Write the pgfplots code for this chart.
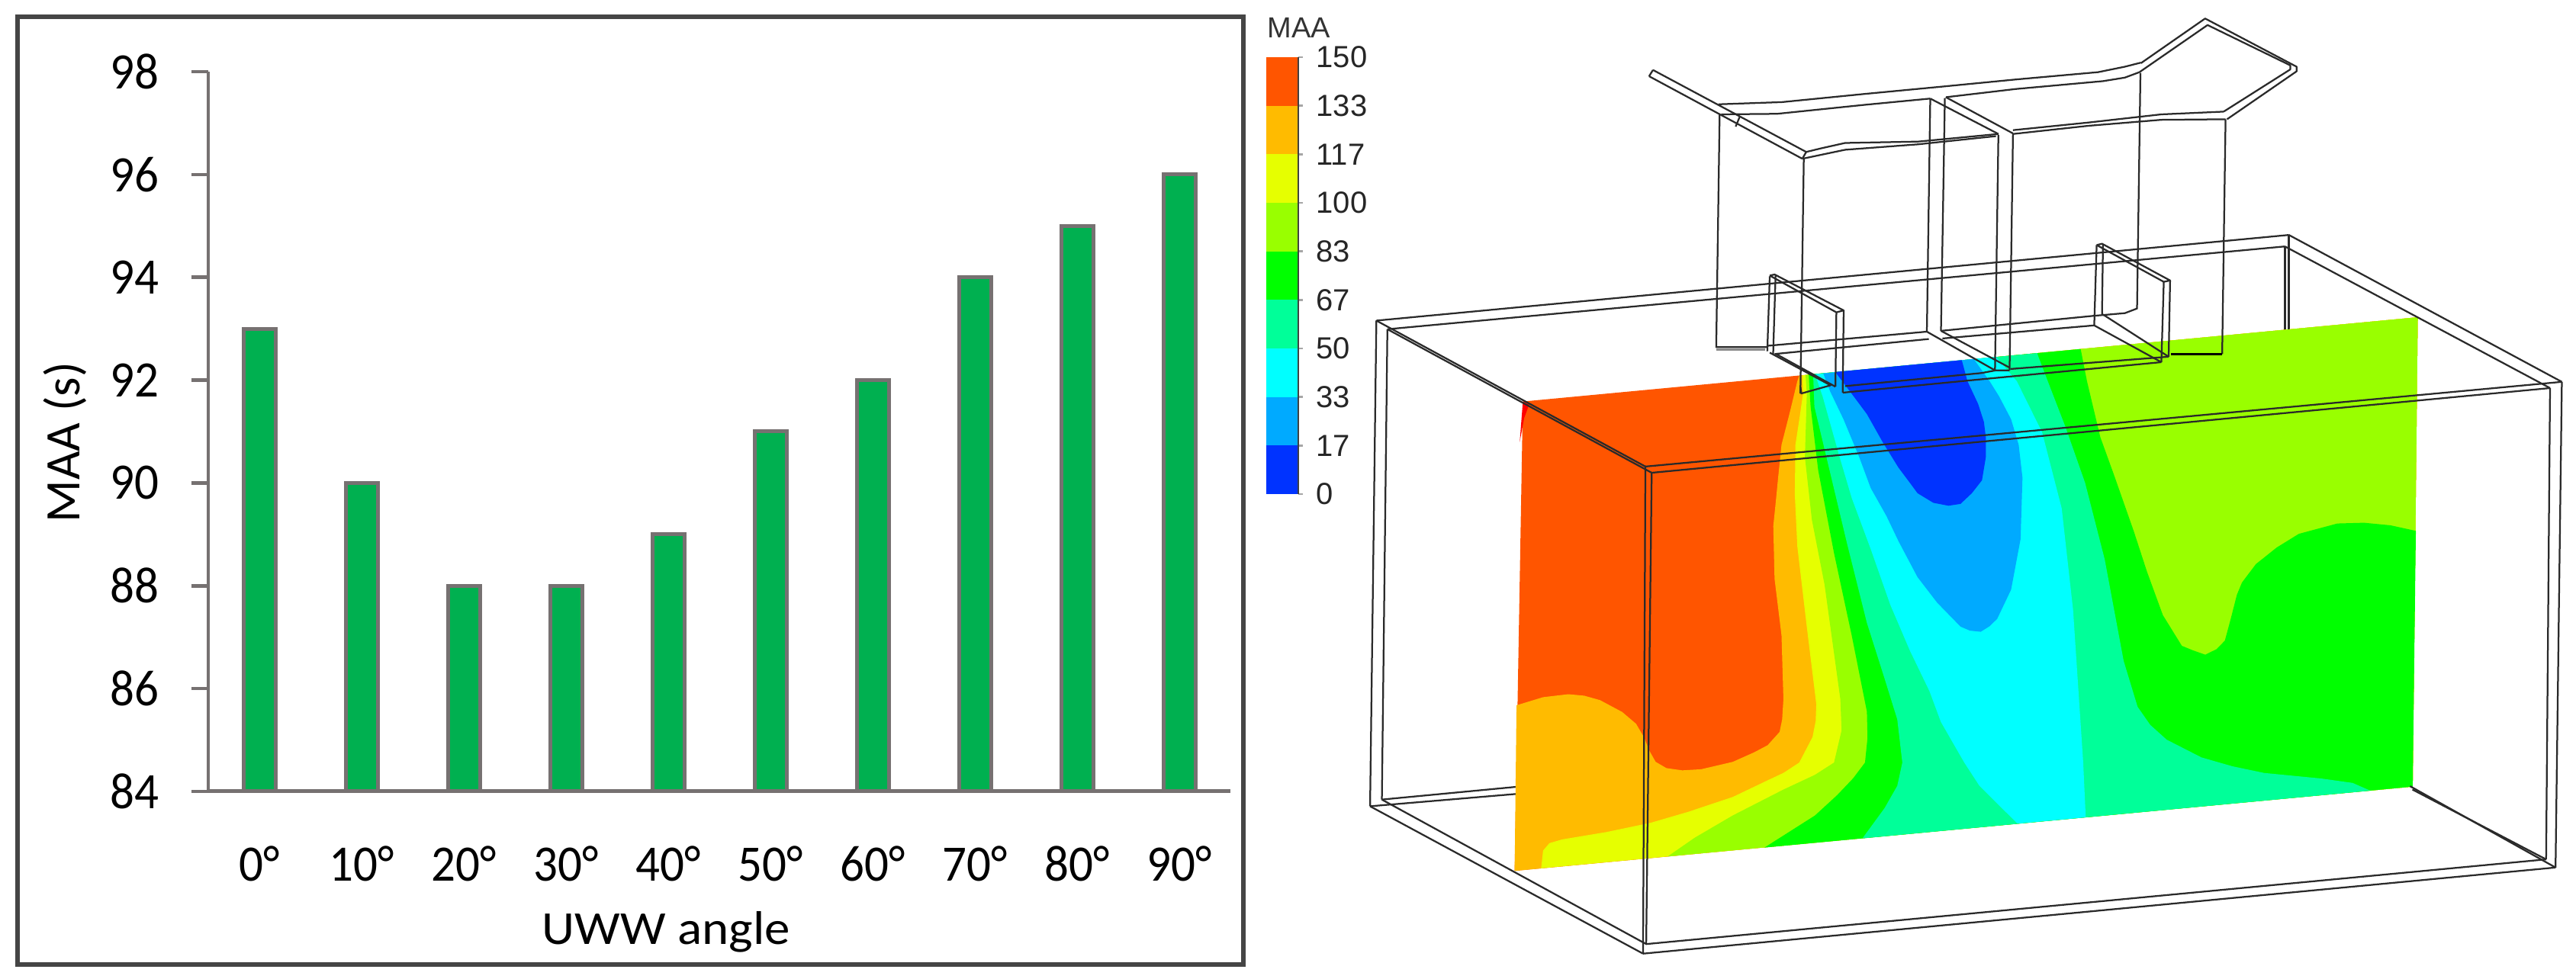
\documentclass[border=0pt]{standalone}
\usepackage{fontspec}
\setmainfont[FakeStretch=0.94]{Carlito}
\newfontfamily\xlabfont[FakeStretch=1.08]{Carlito}
\newfontfamily\ylabfont{Carlito}
\newfontfamily\cbfont{Liberation Sans}
\usepackage{pgfplots}
\pgfplotsset{compat=1.18}
\definecolor{barfill}{HTML}{00B050}
\definecolor{baredge}{HTML}{767171}
\definecolor{framec}{HTML}{454545}
\definecolor{lv0}{HTML}{0033FF}
\definecolor{lv1}{HTML}{00AAFF}
\definecolor{lv2}{HTML}{00FFFF}
\definecolor{lv3}{HTML}{00FF99}
\definecolor{lv4}{HTML}{00FF00}
\definecolor{lv5}{HTML}{99FF00}
\definecolor{lv6}{HTML}{E6FF00}
\definecolor{lv7}{HTML}{FFBB00}
\definecolor{lv8}{HTML}{FF5500}
\definecolor{wirec}{HTML}{2A2A2A}
% 1 px of the reference = 0.2pt
\pgfplotsset{
  panel/.style={scale only axis, hide axis, clip=false, y dir=reverse,
    xmin=0, xmax=1568, ymin=0, ymax=1568, anchor=south west},
  wire/.style={draw=wirec, line width=0.45pt, mark=none, line join=round},
}
\newcommand{\wl}[1]{\addplot[wire] coordinates {#1};}
\newcommand{\band}[2]{\addplot[fill=#1, draw=none] coordinates {#2} --cycle;}
\begin{document}
\begin{tikzpicture}
\useasboundingbox (0,0) rectangle (675.4pt,256.8pt);
\draw[framec, line width=1.1pt] (4.6pt,3.8pt) rectangle (326pt,252.4pt);

% bar chart
\begin{axis}[
  at={(54.6pt,49.2pt)}, anchor=south west, scale only axis,
  width=268pt, height=188.8pt,
  ybar, bar width=8.4pt, bar shift=0pt,
  xmin=-0.5, xmax=9.5, ymin=84, ymax=98,
  xtick=data,
  xticklabels={0°,10°,20°,30°,40°,50°,60°,70°,80°,90°},
  ytick={84,86,88,90,92,94,96,98},
  axis x line=bottom, axis y line=left,
  x axis line style={-, draw=baredge, line width=1pt},
  y axis line style={-, draw=baredge, line width=0.9pt},
  xtick style={draw=none},
  ytick style={draw=baredge, line width=0.9pt},
  tick align=outside, major tick length=4.4pt,
  tick label style={font=\fontsize{13.4}{15}\selectfont, black},
  /pgf/number format/assume math mode=true,
  yticklabel style={xshift=-4.9pt},
  xticklabel style={yshift=-6.4pt},
  xlabel={\xlabfont\fontsize{12.4}{14}\selectfont UWW angle},
  ylabel={\ylabfont\fontsize{13}{15}\selectfont MAA (s)},
  every axis x label/.style={at={(axis description cs:0.448,-0.195)}, anchor=center, black},
  every axis y label/.style={at={(axis description cs:-0.14,0.485)}, anchor=center, rotate=90, black},
  axis on top,
]
\addplot[fill=barfill, draw=baredge, line width=1pt] coordinates {
  (0,93) (1,90) (2,88) (3,88) (4,89) (5,91) (6,92) (7,94) (8,95) (9,96)
};
\end{axis}

% colour bar
\begin{axis}[
  at={(332pt,127.2pt)}, anchor=south west, scale only axis,
  width=8.4pt, height=114.6pt,
  xmin=0, xmax=1, ymin=0, ymax=150,
  axis x line=none, axis y line=right,
  y axis line style={-, draw=black!75, line width=0.5pt},
  ytick={0,16.67,33.33,50,66.67,83.33,100,116.67,133.33,150},
  yticklabels={0,17,33,50,67,83,100,117,133,150},
  ytick style={draw=black!35, line width=0.5pt},
  tick align=outside, major tick length=1.2pt,
  yticklabel style={font=\cbfont\fontsize{8}{9}\selectfont, black!85},
  title={\cbfont\fontsize{7.6}{9}\selectfont MAA},
  every axis title shift=0pt,
  title style={at={(axis description cs:0.02,1.068)}, anchor=west, black!80, inner sep=0pt},
  axis on top,
]
\band{lv0}{(0,0)(1,0)(1,16.67)(0,16.67)}
\band{lv1}{(0,16.67)(1,16.67)(1,33.33)(0,33.33)}
\band{lv2}{(0,33.33)(1,33.33)(1,50)(0,50)}
\band{lv3}{(0,50)(1,50)(1,66.67)(0,66.67)}
\band{lv4}{(0,66.67)(1,66.67)(1,83.33)(0,83.33)}
\band{lv5}{(0,83.33)(1,83.33)(1,100)(0,100)}
\band{lv6}{(0,100)(1,100)(1,116.67)(0,116.67)}
\band{lv7}{(0,116.67)(1,116.67)(1,133.33)(0,133.33)}
\band{lv8}{(0,133.33)(1,133.33)(1,150)(0,150)}
\end{axis}

% box edges behind the plane
\begin{axis}[panel, at={(352pt,0pt)}, width=323.4pt, height=196.8pt]
\wl{(43,192)(1203,13)}
\wl{(57,210)(1198,37)}
\wl{(43,192)(35,1207)}
\wl{(57,210)(50,1193)}
\wl{(50,1193)(230,1165)}
\wl{(35,1207)(230,1180)}
\wl{(1203,13)(1203,215)}
\wl{(1198,37)(1198,215)}
\end{axis}

% contour plane, painted from the highest level down
\begin{axis}[panel, at={(388pt,20.8pt)}, width=260pt, height=152pt]
\band{lv8}{(68,220)(1483,-8)(1475,1262)(55,1490)}
\band{red}{(68,220)(78,228)(70,265)(63,330)}
\band{lv7}{(505,150)(502,165)(490,250)(477,337)(472,420)(468,490)(464,557)(466,700)(477,853)(480,1025)(478,1080)(474,1114)(455,1150)(434,1169)(400,1195)(350,1215)(320,1218)(295,1212)(278,1195)(268,1165)(260,1130)(247,1092)(225,1060)(190,1028)(165,1016)(140,1012)(100,1020)(58,1042)(55,1490)(1475,1262)(1483,-8)}
\band{lv6}{(510,149)(511,199)(505,270)(499,337)(498,470)(502,612)(517,830)(532,1039)(531,1085)(526,1128)(505,1197)(480,1225)(455,1245)(400,1290)(330,1330)(270,1360)(200,1385)(130,1405)(110,1415)(100,1435)(97,1483)(1475,1262)(1483,-8)}
\band{lv5}{(515,148)(517,199)(514,371)(525,540)(545,715)(570,1025)(572,1110)(560,1197)(530,1230)(480,1270)(400,1340)(340,1400)(297,1451)(1475,1262)(1483,-8)}
\band{lv4}{(520,147)(523,234)(535,406)(560,630)(588,853)(612,1059)(613,1130)(609,1197)(590,1240)(565,1285)(530,1340)(450,1427)(1475,1262)(1480,570)(1440,555)(1398,548)(1356,550)(1295,578)(1260,615)(1227,660)(1205,710)(1197,743)(1187,810)(1178,867)(1165,890)(1147,905)(1127,893)(1110,881)(1080,798)(1055,681)(1034,571)(1003,420)(981,316)(960,165)(950,78)}
\band{lv3}{(527,146)(529,234)(551,392)(580,600)(612,819)(640,970)(660,1080)(668,1197)(660,1260)(640,1320)(605,1402)(1408,1273)(1380,1252)(1330,1240)(1240,1225)(1190,1207)(1141,1183)(1086,1135)(1060,1095)(1040,1046)(1018,922)(988,647)(957,440)(926,289)(898,165)(881,89)}
\band{lv2}{(530,146)(542,206)(569,371)(588,481)(618,619)(649,770)(680,894)(711,1004)(729,1087)(766,1197)(790,1260)(850,1362)(958,1345)(954,1197)(938,784)(920,509)(889,303)(849,165)(816,99)}
\band{lv1}{(543,144)(554,193)(575,268)(600,371)(618,454)(643,530)(662,598)(692,695)(723,764)(760,829)(775,840)(792,843)(806,828)(818,808)(840,729)(855,592)(858,426)(852,337)(840,268)(821,206)(806,165)(781,105)}
\band{lv0}{(562,140)(588,199)(612,254)(637,330)(662,399)(680,440)(692,468)(717,494)(741,502)(760,497)(778,468)(794,433)(800,371)(800,316)(797,275)(788,227)(771,165)(762,108)}
\end{axis}

% box edges in front of the plane
\begin{axis}[panel, at={(352pt,0pt)}, width=323.4pt, height=196.8pt]
\wl{(43,192)(385,497)}
\wl{(57,210)(393,510)}
\wl{(385,497)(1550,320)}
\wl{(393,510)(1535,333)}
\wl{(1203,13)(1550,320)}
\wl{(1198,37)(1535,333)}
\wl{(385,497)(382,1515)}
\wl{(393,510)(386,1495)}
\wl{(1550,320)(1542,1335)}
\wl{(1535,333)(1530,1318)}
\wl{(35,1207)(382,1515)}
\wl{(50,1193)(386,1495)}
\wl{(382,1515)(1542,1335)}
\wl{(386,1495)(1530,1318)}
\wl{(1357,1165)(1542,1335)}
\wl{(1360,1172)(1530,1318)}
\end{axis}

% outlet ducts and baffles
\begin{axis}[panel, at={(420pt,144.8pt)}, width=200pt, height=112pt]
\wl{(105,257)(420,558)}
\wl{(97,280)(412,583)}
\wl{(105,257)(97,280)}
\wl{(420,558)(412,583)}
\wl{(283,430)(275,465)}
\wl{(240,383)(370,375)(540,345)(700,318)(850,292)(1020,265)(1075,245)(1108,230)}
\wl{(245,420)(360,418)(540,385)(675,362)}
\wl{(707,357)(850,327)(1030,298)(1075,285)(1105,265)}
\wl{(1108,232)(1240,68)(1428,245)(1428,262)(1285,438)}
\wl{(1105,265)(1245,92)(1415,240)(1415,255)(1278,410)}
\wl{(1278,410)(1150,420)(1000,450)(845,478)}
\wl{(1282,438)(1150,440)(1000,462)(845,492)}
\wl{(815,492)(650,520)(500,525)(450,545)(420,558)}
\wl{(810,500)(650,530)(500,550)(460,565)(412,583)}
\wl{(707,357)(845,490)}
\wl{(675,362)(815,492)}
\wl{(242,420)(235,1275)(340,1275)}
\wl{(415,585)(408,1445)}
\wl{(675,362)(668,1218)}
\wl{(705,360)(697,1215)}
\wl{(815,495)(808,1360)}
\wl{(845,490)(838,1360)}
\wl{(1107,268)(1100,1135)}
\wl{(1282,438)(1275,1300)}
\addplot[draw=black!45, line width=0.6pt] coordinates {(235,1283)(335,1283)};
\addplot[draw=black, line width=0.7pt] coordinates {(1170,1300)(1275,1300)};
\wl{(340,1270)(668,1218)}
\wl{(355,1300)(672,1245)}
\wl{(697,1215)(1010,1160)(1075,1150)(1100,1133)}
\wl{(700,1243)(1012,1195)}
\wl{(668,1218)(808,1360)(838,1360)}
\wl{(697,1215)(838,1350)}
\wl{(1012,1195)(1150,1330)}
\wl{(1030,1155)(1165,1310)}
\wl{(345,1295)(470,1415)(410,1445)(408,1420)}
\wl{(358,1300)(480,1420)}
\wl{(500,1418)(780,1370)(810,1360)}
\wl{(495,1442)(750,1398)(1150,1330)}
\wl{(840,1355)(1165,1310)}
\wl{(345,1015)(340,1290)}
\wl{(357,1010)(352,1300)}
\wl{(345,1012)(482,1147)(497,1140)(355,1008)(345,1012)}
\wl{(482,1147)(480,1420)}
\wl{(497,1140)(495,1442)}
\wl{(1017,900)(1155,1035)(1168,1030)(1028,895)(1017,900)}
\wl{(1017,900)(1012,1195)}
\wl{(1030,897)(1028,1155)}
\wl{(1155,1035)(1150,1330)}
\wl{(1168,1030)(1165,1310)}
\end{axis}
\end{tikzpicture}
\end{document}
